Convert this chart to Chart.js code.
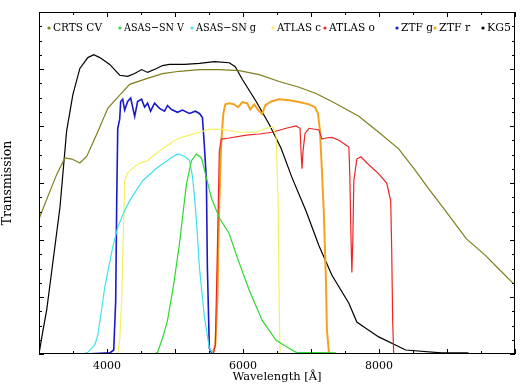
<!DOCTYPE html>
<html>
<head>
<meta charset="utf-8">
<script src="https://cdn.jsdelivr.net/npm/chart.js@4"></script>
<style>
  html, body { margin: 0; padding: 0; background: #fff; }
  #wrap { width: 520px; height: 387px; }
</style>
</head>
<body>
<div id="wrap"><canvas id="filterChart" width="520" height="387"></canvas></div>
<script>
// wavelengths in Angstrom, transmission (arbitrary scale)
var crtsWave = [3000,3132,3264,3381,3484,3601,3703,3850,4011,4187,4333,4582,4817,5066,5359,5652,5945,6238,6531,6824,7073,7308,7703,7996,8289,8509,8729,8978,9286,9564,9755,9974];
var crtsTrans = [0.237,0.277,0.316,0.344,0.342,0.335,0.347,0.386,0.431,0.454,0.473,0.483,0.492,0.496,0.499,0.499,0.497,0.490,0.478,0.468,0.457,0.443,0.417,0.389,0.360,0.326,0.290,0.251,0.202,0.173,0.150,0.124];

var asasVWave = [4700,4744,4817,4890,4978,5066,5168,5242,5315,5388,5462,5535,5652,5798,5916,6092,6282,6487,6678,6780,7366];
var asasVTrans = [0,0.003,0.028,0.059,0.120,0.194,0.298,0.339,0.351,0.344,0.309,0.274,0.239,0.211,0.169,0.112,0.059,0.024,0.010,0.003,0.002];

var asasGWave = [3645,3718,3820,3864,3908,3967,4084,4158,4245,4333,4524,4729,4919,5037,5139,5212,5256,5286,5315,5359,5432,5505,5564];
var asasGTrans = [0,0.003,0.016,0.033,0.068,0.117,0.187,0.222,0.248,0.269,0.304,0.326,0.342,0.351,0.347,0.340,0.312,0.277,0.234,0.152,0.065,0.010,0];

var atlasCWave = [4158,4187,4216,4245,4260,4304,4377,4480,4597,4670,4773,4875,4963,5066,5212,5359,5505,5696,5945,6194,6341,6443,6487,6516,6531,6545];
var atlasCTrans = [0,0.024,0.094,0.234,0.304,0.318,0.326,0.335,0.339,0.347,0.356,0.365,0.372,0.379,0.384,0.389,0.394,0.394,0.389,0.389,0.396,0.398,0.382,0.269,0.094,0];

var atlasOWave = [5564,5593,5623,5652,5681,5798,6048,6238,6429,6634,6780,6839,6853,6868,6883,6912,6971,7117,7161,7220,7308,7410,7557,7571,7586,7601,7615,7630,7674,7733,7850,7996,8113,8172,8187,8201,8216];
var atlasOTrans = [0,0.016,0.182,0.356,0.377,0.379,0.384,0.386,0.389,0.396,0.400,0.396,0.356,0.325,0.356,0.387,0.396,0.393,0.377,0.379,0.380,0.375,0.363,0.312,0.216,0.143,0.199,0.304,0.342,0.346,0.332,0.316,0.300,0.269,0.182,0.059,0];

var ztfGWave = [3689,4040,4099,4128,4143,4158,4187,4201,4231,4260,4304,4348,4407,4450,4509,4553,4597,4641,4699,4773,4846,4890,4949,5037,5110,5212,5300,5359,5403,5432,5462,5476,5505,5550];
var ztfGTrans = [0,0.002,0.007,0.094,0.269,0.396,0.412,0.443,0.447,0.428,0.443,0.449,0.417,0.443,0.447,0.433,0.440,0.426,0.440,0.431,0.426,0.436,0.429,0.424,0.428,0.422,0.426,0.422,0.415,0.365,0.304,0.152,0.010,0];

var ztfRWave = [5550,5593,5623,5652,5681,5711,5740,5798,5872,5930,5989,6062,6106,6165,6224,6282,6326,6414,6531,6678,6824,6971,7059,7103,7132,7161,7190,7220,7234,7264,7308];
var ztfRTrans = [0,0.016,0.094,0.269,0.373,0.422,0.438,0.440,0.438,0.433,0.442,0.440,0.429,0.438,0.428,0.421,0.436,0.443,0.447,0.445,0.442,0.438,0.433,0.422,0.391,0.321,0.243,0.129,0.042,0.003,0];

var kg5Wave = [3000,3059,3113,3308,3406,3498,3601,3718,3806,3894,4040,4187,4304,4407,4509,4597,4729,4817,4919,5139,5359,5579,5798,5886,5989,6194,6385,6560,6722,6927,7117,7308,7557,7674,7806,7996,8392,8919,9315];
var kg5Trans = [0,0.042,0.077,0.257,0.391,0.455,0.501,0.520,0.525,0.520,0.508,0.489,0.487,0.492,0.499,0.494,0.501,0.506,0.508,0.508,0.510,0.513,0.511,0.504,0.482,0.443,0.403,0.361,0.309,0.251,0.190,0.138,0.089,0.056,0.045,0.030,0.007,0.002,0.002];

var labelTicks = [4000, 6000, 8000];

function pts(w, t) {
    return w.map(function (v, i) { return {x: v, y: t[i]}; });
}

function mkSet(label, w, t, color, width) {
    return {
        label: label,
        data: pts(w, t),
        borderColor: color,
        backgroundColor: color,
        borderWidth: width,
        pointRadius: 0,
        tension: 0,
        fill: false
    };
}

var serif = "'DejaVu Serif', serif";

// inward ticks on all four sides plus the box
var framePlugin = {
    id: 'frame',
    afterDatasetsDraw: function (chart) {
        var ctx = chart.ctx, a = chart.chartArea;
        var xs = chart.scales.x, ys = chart.scales.y;
        ctx.save();
        ctx.strokeStyle = '#000';
        ctx.lineWidth = 1;
        ctx.beginPath();
        xs.ticks.forEach(function (tk) {
            var px = Math.round(xs.getPixelForValue(tk.value)) + 0.5;
            var len = (tk.value % 1000 === 0) ? 5 : 3;
            ctx.moveTo(px, a.bottom); ctx.lineTo(px, a.bottom - len);
            ctx.moveTo(px, a.top); ctx.lineTo(px, a.top + len);
        });
        ys.ticks.forEach(function (tk) {
            var py = Math.round(ys.getPixelForValue(tk.value)) + 0.5;
            var len = (Math.abs(tk.value * 10 - Math.round(tk.value * 10)) < 1e-6) ? 5 : 3;
            ctx.moveTo(a.left, py); ctx.lineTo(a.left + len, py);
            ctx.moveTo(a.right, py); ctx.lineTo(a.right - len, py);
        });
        ctx.stroke();
        ctx.strokeRect(a.left + 0.5, a.top + 0.5, a.right - a.left - 1, a.bottom - a.top - 1);
        ctx.restore();
    }
};

// legend row inside the plot box
var legendPlugin = {
    id: 'rowLegend',
    afterDraw: function (chart, args, opts) {
        var ctx = chart.ctx, a = chart.chartArea;
        ctx.save();
        ctx.font = '11px ' + serif;
        ctx.textBaseline = 'middle';
        chart.data.datasets.forEach(function (ds, i) {
            var dx = a.left + opts.dotX[i];
            var yy = a.top + opts.rowY;
            ctx.fillStyle = ds.borderColor;
            ctx.beginPath();
            ctx.arc(dx, yy, 1.6, 0, Math.PI * 2);
            ctx.fill();
            ctx.fillStyle = '#000';
            ctx.fillText(ds.label, dx + 4, yy, opts.textW[i]);
        });
        ctx.restore();
    }
};

var ctx = document.getElementById('filterChart').getContext('2d');
var filterChart = new Chart(ctx, {
    type: 'line',
    data: {
        datasets: [
            mkSet('CRTS CV', crtsWave, crtsTrans, '#7f7f1c', 1.2),
            mkSet('ASAS\u2212SN V', asasVWave, asasVTrans, '#2fd82f', 1.2),
            mkSet('ASAS\u2212SN g', asasGWave, asasGTrans, '#40e2ee', 1.2),
            mkSet('ATLAS c', atlasCWave, atlasCTrans, '#f6f060', 1.2),
            mkSet('ATLAS o', atlasOWave, atlasOTrans, '#ee2424', 1.2),
            mkSet('ZTF g', ztfGWave, ztfGTrans, '#1a1ac8', 1.6),
            mkSet('ZTF r', ztfRWave, ztfRTrans, '#f4a21e', 2),
            mkSet('KG5', kg5Wave, kg5Trans, '#000000', 1.2)
        ]
    },
    options: {
        responsive: false,
        animation: false,
        layout: {
            padding: {top: 12, right: 5, bottom: 0, left: 0}
        },
        plugins: {
            legend: {display: false},
            tooltip: {enabled: false},
            rowLegend: {
                dotX: [10, 81, 153, 234, 286, 358, 396, 444],
                textW: [49, 60, 60, 44, 46, 32, 32, 24],
                rowY: 16
            }
        },
        scales: {
            x: {
                type: 'linear',
                min: 3000,
                max: 10000,
                grid: {display: false},
                border: {display: false},
                ticks: {
                    stepSize: 500,
                    autoSkip: false,
                    maxRotation: 0,
                    padding: -2,
                    color: '#000',
                    font: {family: serif, size: 11},
                    callback: function (v) {
                        return labelTicks.indexOf(v) >= 0 ? String(v) : '';
                    }
                },
                title: {
                    display: true,
                    text: 'Wavelength [\u00c5]',
                    color: '#000',
                    font: {family: serif, size: 11.5},
                    padding: {top: 0, bottom: 3}
                },
                afterFit: function (s) { s.height = 33; }
            },
            y: {
                min: 0,
                max: 0.6,
                grid: {display: false},
                border: {display: false},
                ticks: {display: false, stepSize: 0.025},
                title: {
                    display: true,
                    text: 'Transmission',
                    color: '#000',
                    font: {family: serif, size: 12.5},
                    padding: {top: 0, bottom: 0}
                },
                afterFit: function (s) { s.width = 39; }
            }
        }
    },
    plugins: [framePlugin, legendPlugin]
});
</script>
</body>
</html>
